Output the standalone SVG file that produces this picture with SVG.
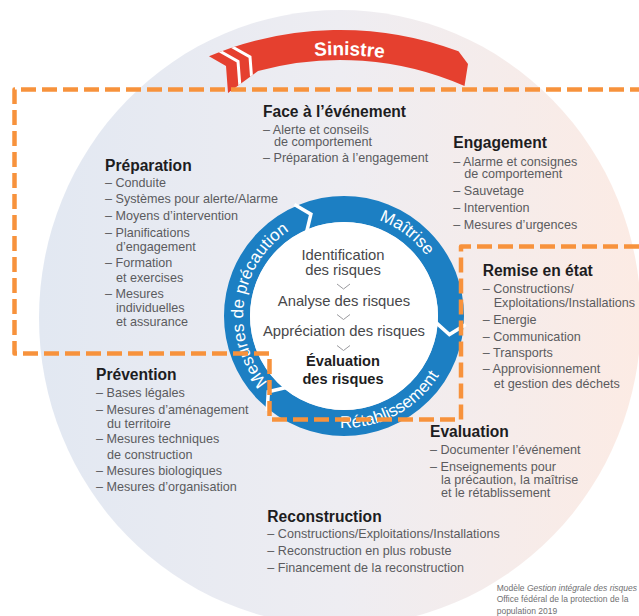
<svg xmlns="http://www.w3.org/2000/svg" width="639" height="616" viewBox="0 0 639 616">
<defs>
  <linearGradient id="bg" x1="0" y1="0" x2="1" y2="0">
    <stop offset="0" stop-color="#e2e8f2"/>
    <stop offset="0.5" stop-color="#eeedf2"/>
    <stop offset="1" stop-color="#fcebe4"/>
  </linearGradient>
  <path id="pSin" d="M25,370 A315,315 0 0 1 655,370"/>
  <path id="pPre" d="M329.8,417 A102,102 0 0 1 358.2,215"/>
  <path id="pMai" d="M262.5,254.6 A102,102 0 0 1 425.5,377.4"/>
  <path id="pRet" d="M245.1,368.6 A112,112 0 0 0 442.9,263.4"/>
  <clipPath id="tailClip">
    <path d="M209,56.3 A340,340 0 0 1 458.5,51.3 L468,64 L464.5,86 A310,310 0 0 0 258,71 L228,93 L226,66 Z"/>
  </clipPath>
</defs>
<style>
  .h{font-family:"Liberation Sans",Arial,sans-serif;font-weight:bold;font-size:15.6px;fill:#1d1d1f}
  .i{font-family:"Liberation Sans",Arial,sans-serif;font-size:12.6px;fill:#5b5b5e}
  .c{font-family:"Liberation Sans",Arial,sans-serif;font-size:14.8px;fill:#47474a;text-anchor:middle}
  .cb{font-family:"Liberation Sans",Arial,sans-serif;font-size:14.6px;font-weight:bold;fill:#1d1d1f;text-anchor:middle}
  .rt{font-family:"Liberation Sans",Arial,sans-serif;font-size:17px;fill:#ffffff}
  .cap{font-family:"Liberation Sans",Arial,sans-serif;font-size:8.5px;fill:#707072}
  .chev{fill:none;stroke:#9a9a9e;stroke-width:1}
  .gap{fill:none;stroke:#ffffff;stroke-width:3.5;stroke-linejoin:miter}
</style>

<ellipse id="background" cx="340" cy="318" rx="301" ry="308" fill="url(#bg)"/>

<g id="sinistre">
  <path d="M209,56.3 A340,340 0 0 1 458.5,51.3 L468,64 L464.5,86 A310,310 0 0 0 258,71 L228,93 L226,66 Z" fill="#e5402f"/>
  <g clip-path="url(#tailClip)" fill="none" stroke="#ffffff" stroke-width="3">
    <path d="M212.5,47 L238,61.5 L240.8,97.9"/>
    <path d="M224.5,42.5 L250,57 L252.8,93.4"/>
  </g>
  <text font-family="'Liberation Sans',Arial,sans-serif" font-weight="bold" font-size="19" fill="#ffffff" text-anchor="middle"><textPath href="#pSin" startOffset="503.8">Sinistre</textPath></text>
</g>

<g id="cycle">
  <circle cx="344" cy="316" r="107" fill="none" stroke="#1c7fc3" stroke-width="26"/>
  <circle cx="344" cy="316" r="94" fill="#ffffff"/>
  <polyline class="gap" points="306.6,232 310.9,214.2 294.4,204.6"/>
  <polyline class="gap" points="435.8,322.4 449.4,334.6 465.7,324.5"/>
  <polyline class="gap" points="286.1,387.5 268.3,391.7 267.2,410.8"/>
  <text class="rt" text-anchor="middle"><textPath href="#pPre" startOffset="50%">Mesures de précaution</textPath></text>
  <text class="rt" text-anchor="middle"><textPath href="#pMai" startOffset="50%">Maîtrise</textPath></text>
  <text class="rt" text-anchor="middle"><textPath href="#pRet" startOffset="50%">Rétablissement</textPath></text>
</g>

<g id="analyse">
  <text class="c" x="343" y="259.5">Identification</text>
  <text class="c" x="343" y="274.5">des risques</text>
  <polyline class="chev" points="337,284 343.5,289 350,284"/>
  <text class="c" x="344" y="305.5">Analyse des risques</text>
  <polyline class="chev" points="337,314.5 343.5,319.5 350,314.5"/>
  <text class="c" x="344" y="336">Appréciation des risques</text>
  <polyline class="chev" points="337,345.5 343.5,350.5 350,345.5"/>
  <text class="cb" x="343" y="366">Évaluation</text>
  <text class="cb" x="343" y="384">des risques</text>
</g>

<g id="face">
  <text class="h" x="263" y="116.5">Face à l’événement</text>
  <text class="i" x="263" y="133.5">– Alerte et conseils</text>
  <text class="i" x="274" y="146">de comportement</text>
  <text class="i" x="263" y="162">– Préparation à l’engagement</text>
</g>

<g id="engagement">
  <text class="h" x="453.3" y="148.3">Engagement</text>
  <text class="i" x="453.3" y="165.7">– Alarme et consignes</text>
  <text class="i" x="464.3" y="178.3">de comportement</text>
  <text class="i" x="453.3" y="195">– Sauvetage</text>
  <text class="i" x="453.3" y="212.3">– Intervention</text>
  <text class="i" x="453.3" y="229.3">– Mesures d’urgences</text>
</g>

<g id="preparation">
  <text class="h" x="105" y="170.7">Préparation</text>
  <text class="i" x="105" y="186.7">– Conduite</text>
  <text class="i" x="105" y="203.3">– Systèmes pour alerte/Alarme</text>
  <text class="i" x="105" y="220">– Moyens d’intervention</text>
  <text class="i" x="105" y="237.3">– Planifications</text>
  <text class="i" x="116" y="250.7">d’engagement</text>
  <text class="i" x="105" y="267.3">– Formation</text>
  <text class="i" x="116" y="281.7">et exercises</text>
  <text class="i" x="105" y="298.3">– Mesures</text>
  <text class="i" x="116" y="312.3">individuelles</text>
  <text class="i" x="116" y="325.7">et assurance</text>
</g>

<g id="remise">
  <text class="h" x="482.7" y="275.7">Remise en état</text>
  <text class="i" x="482.7" y="293.3">– Constructions/</text>
  <text class="i" x="493.7" y="306.7">Exploitations/Installations</text>
  <text class="i" x="482.7" y="324">– Energie</text>
  <text class="i" x="482.7" y="340.7">– Communication</text>
  <text class="i" x="482.7" y="357.3">– Transports</text>
  <text class="i" x="482.7" y="373.3">– Approvisionnement</text>
  <text class="i" x="493.7" y="388.3">et gestion des déchets</text>
</g>

<g id="prevention">
  <text class="h" x="96" y="380">Prévention</text>
  <text class="i" x="96" y="397.3">– Bases légales</text>
  <text class="i" x="96" y="414">– Mesures d’aménagement</text>
  <text class="i" x="107" y="428.3">du territoire</text>
  <text class="i" x="96" y="443.3">– Mesures techniques</text>
  <text class="i" x="107" y="459">de construction</text>
  <text class="i" x="96" y="475">– Mesures biologiques</text>
  <text class="i" x="96" y="491">– Mesures d’organisation</text>
</g>

<g id="evaluation">
  <text class="h" x="430" y="436.7">Evaluation</text>
  <text class="i" x="430" y="454">– Documenter l’événement</text>
  <text class="i" x="430" y="471">– Enseignements pour</text>
  <text class="i" x="441" y="484">la précaution, la maîtrise</text>
  <text class="i" x="441" y="497.3">et le rétablissement</text>
</g>

<g id="reconstruction">
  <text class="h" x="267.3" y="521.7">Reconstruction</text>
  <text class="i" x="267.3" y="538.3">– Constructions/Exploitations/Installations</text>
  <text class="i" x="267.3" y="555">– Reconstruction en plus robuste</text>
  <text class="i" x="267.3" y="571.7">– Financement de la reconstruction</text>
</g>

<g id="caption">
  <text class="cap" x="496.7" y="590.7">Modèle <tspan font-style="italic">Gestion intégrale des risques</tspan></text>
  <text class="cap" x="496.7" y="602">Office fédéral de la protection de la</text>
  <text class="cap" x="496.7" y="613.5">population 2019</text>
</g>

<g id="connectors">
  <path d="M645,89.5 L14.5,89.5 L14.5,353.5 L269.5,353.5 L269.5,419.5 L461,419.5 L461,246.5 L645,246.5" fill="none" stroke="#f7923c" stroke-width="4.5" stroke-dasharray="15 6" stroke-linejoin="round"/>
</g>
</svg>
